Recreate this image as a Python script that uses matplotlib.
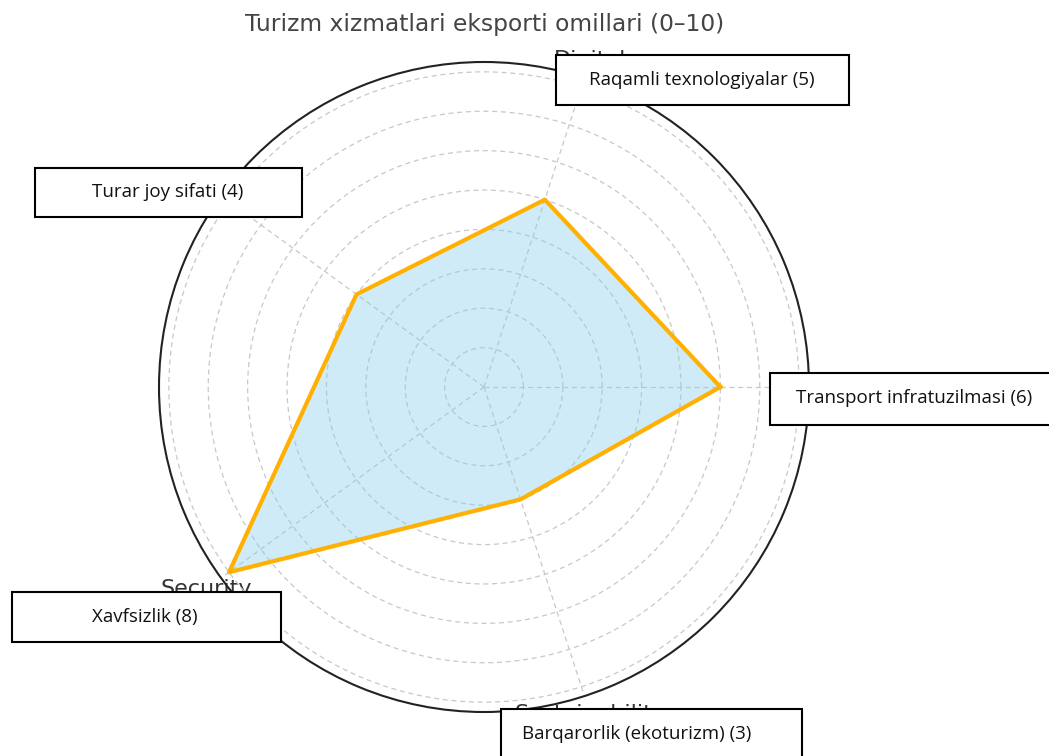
import numpy as np
import matplotlib
matplotlib.use("Agg")
import matplotlib.pyplot as plt

categories = ["Transport", "Digital", "Accommodation", "Security", "Sustainability"]
values = [6, 5, 4, 8, 3]
box_labels = ["Transport infratuzilmasi (6)", "Raqamli texnologiyalar (5)",
              "Turar joy sifati (4)", "Xavfsizlik (8)", "Barqarorlik (ekoturizm) (3)"]
title = "Turizm xizmatlari eksporti omillari (0–10)"

W, H = 1049, 756
fig = plt.figure(figsize=(W / 100, H / 100), dpi=100)
cx, cy, R = 484, 387, 325
ax = fig.add_axes([(cx - R) / W, (H - cy - R) / H, 2 * R / W, 2 * R / H], projection="polar")

n = len(categories)
angles = np.linspace(0, 2 * np.pi, n, endpoint=False)
a_closed = np.concatenate([angles, angles[:1]])
v_closed = np.concatenate([values, values[:1]])

ax.fill(a_closed, v_closed, color="skyblue", alpha=0.4, zorder=2)
ax.plot(a_closed, v_closed, color="#FFB000", linewidth=3, zorder=3)

ax.set_ylim(0, 8.25)
ax.set_yticks(range(1, 9))
ax.set_yticklabels([])
ax.set_xticks(angles)
ax.set_xticklabels(categories, fontsize=16, color="#333333")
ax.tick_params(axis="x", pad=3)
ax.grid(True, linestyle=(0, (4, 3)), color="#c8c8c8", linewidth=0.9)
ax.spines["polar"].set_color("#222222")
ax.spines["polar"].set_linewidth(1.5)

fig.text(485 / W, 1 - 25 / H, title, ha="center", va="center", fontsize=16.8, color="#444444")

# annotation boxes (pixel rectangles: x0, y0, x1, y1)
boxes = [(770, 373, 1060, 425), (556, 55, 849, 105), (35, 168, 302, 217),
         (12, 592, 281, 642), (501, 709, 802, 770)]
text_centers = [(914, 398), (702, 80), (168, 192), (145, 617), (637, 734)]
for (x0, y0, x1, y1), (tx, ty), lab in zip(boxes, text_centers, box_labels):
    rect = plt.Rectangle((x0 / W, 1 - y1 / H), (x1 - x0) / W, (y1 - y0) / H,
                         transform=fig.transFigure, facecolor="white",
                         edgecolor="black", linewidth=1.5, zorder=10)
    fig.add_artist(rect)
    fig.text(tx / W, 1 - ty / H, lab, ha="center", va="center",
             fontsize=13.5, family="Open Sans", color="#111111", zorder=11)

fig.savefig("out.png", dpi=100)
